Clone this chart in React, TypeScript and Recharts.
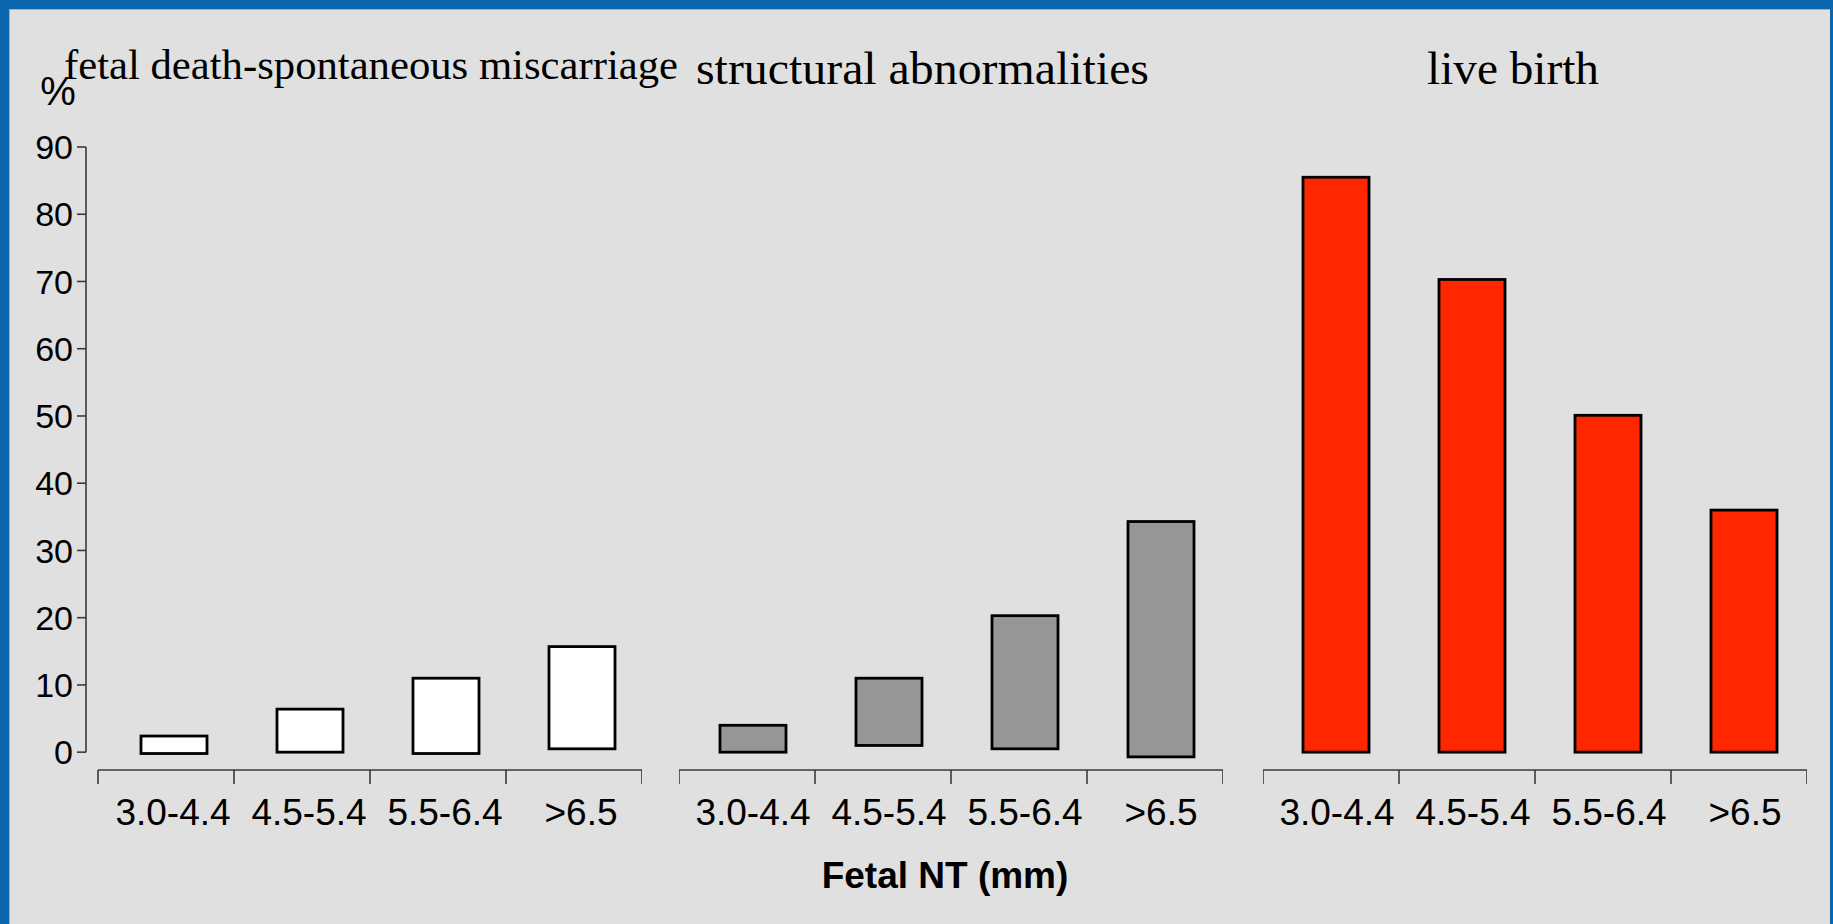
import React from "react";
import { BarChart, Bar, XAxis, YAxis, ReferenceLine } from "recharts";

const categories = ["3.0-4.4", "4.5-5.4", "5.5-6.4", ">6.5"];
const yTicks = [0, 10, 20, 30, 40, 50, 60, 70, 80, 90];

// values (bars are drawn slightly floating in the original)
const deathLow = [-0.2, 0, -0.2, 0.5];
const deathHigh = [2.4, 6.4, 11.0, 15.7];
const structLow = [0, 1.0, 0.5, -0.7];
const structHigh = [4.0, 11.0, 20.3, 34.3];
const liveLow = [0, 0, 0, 0];
const liveHigh = [85.5, 70.3, 50.1, 36.0];

const titles = ["fetal death-spontaneous miscarriage", "structural abnormalities", "live birth"];
const xTitle = "Fetal NT (mm)";

const build = (low: number[], high: number[]) =>
  categories.map((c, i) => ({ cat: c, v: [low[i], high[i]] }));

const deathData = build(deathLow, deathHigh);
const structData = build(structLow, structHigh);
const liveData = build(liveLow, liveHigh);

const SANS = "'Liberation Sans', Arial, sans-serif";
const SERIF = "'Liberation Serif', 'Times New Roman', serif";
const AXIS = "#3a3a3a";

const PLOT_TOP = 147;
const PLOT_BOTTOM = 771;
const CH_H = 924;
const XAXIS_H = 100;
const SEG_W = 544;
const BAND = SEG_W / categories.length;
const Y_DOMAIN: [number, number] = [-2.8, 90];

const makeTick = (labelDx: number) => (props: any) => {
  const { x, y, index, payload } = props;
  const half = BAND / 2;
  const ly = y - 1;
  return (
    <g>
      <line x1={x - half} x2={x + half} y1={ly} y2={ly} stroke={AXIS} strokeWidth={1.6} />
      <line x1={x - half} x2={x - half} y1={ly} y2={ly + 14} stroke={AXIS} strokeWidth={1.6} />
      {index === categories.length - 1 && (
        <line x1={x + half} x2={x + half} y1={ly} y2={ly + 14} stroke={AXIS} strokeWidth={1.6} />
      )}
      <text x={x + labelDx} y={y + 54} textAnchor="middle" fontSize={37} fontFamily={SANS} fill="#000">
        {payload.value}
      </text>
    </g>
  );
};

const makeShape = (dx: number, fill: string) => (p: any) => {
  const { x, y, width, height } = p;
  const top = height < 0 ? y + height : y;
  const h = Math.abs(height);
  return <rect x={x + dx} y={top} width={width} height={h} fill={fill} stroke="#000" strokeWidth={2.8} />;
};

type PanelProps = {
  data: any[];
  fill: string;
  left: number;
  width: number;
  dx: number;
  labelDx: number;
  showY?: boolean;
  yWidth?: number;
  padLeft?: number;
};

const Panel = ({ data, fill, left, width, dx, labelDx, showY, yWidth = 0, padLeft = 0 }: PanelProps) => (
  <div style={{ position: "absolute", left, top: 0 }}>
    <BarChart
      width={width}
      height={CH_H}
      data={data}
      margin={{ top: PLOT_TOP, right: 0, left: 0, bottom: CH_H - PLOT_BOTTOM - XAXIS_H }}
      barSize={66}
    >
      <XAxis
        xAxisId="cat"
        dataKey="cat"
        height={XAXIS_H}
        axisLine={false}
        tickLine={false}
        tickSize={0}
        tickMargin={0}
        interval={0}
        padding={{ left: padLeft, right: 0 }}
        tick={makeTick(labelDx)}
      />
      <XAxis xAxisId="n" type="number" domain={[0, 1]} hide />
      <YAxis
        domain={Y_DOMAIN}
        ticks={yTicks}
        hide={!showY}
        width={yWidth}
        axisLine={false}
        tickLine={{ stroke: AXIS, strokeWidth: 1.6 }}
        tickSize={9}
        tickMargin={4}
        tick={{ fontSize: 34, fontFamily: SANS, fill: "#000" }}
      />
      {showY && (
        <ReferenceLine
          xAxisId="n"
          segment={[{ x: 0, y: 0 }, { x: 0, y: 90 }]}
          stroke={AXIS}
          strokeWidth={1.6}
          ifOverflow="visible"
        />
      )}
      <Bar
        xAxisId="cat"
        dataKey="v"
        fill={fill}
        stroke="#000"
        strokeWidth={2.8}
        shape={makeShape(dx, fill)}
        isAnimationActive={false}
      />
    </BarChart>
  </div>
);

export default function App() {
  return (
    <div
      style={{
        position: "absolute",
        left: 0,
        top: 0,
        width: 1833,
        height: 924,
        background: "#e0e0e0",
        overflow: "hidden",
      }}
    >
      <Panel data={deathData} fill="#ffffff" left={0} width={98 + SEG_W} dx={8} labelDx={7} showY yWidth={86} padLeft={12} />
      <Panel data={structData} fill="#969696" left={679} width={SEG_W} dx={6} labelDx={6} />
      <Panel data={liveData} fill="#ff2600" left={1263} width={SEG_W} dx={5} labelDx={6} />
      <svg
        width={1833}
        height={924}
        style={{ position: "absolute", left: 0, top: 0, pointerEvents: "none" }}
      >
        <text x={64} y={79} fontSize={42} fontFamily={SERIF} fill="#000" textLength={614} lengthAdjust="spacingAndGlyphs">
          {titles[0]}
        </text>
        <text x={696} y={84} fontSize={47} fontFamily={SERIF} fill="#000" textLength={453} lengthAdjust="spacingAndGlyphs">
          {titles[1]}
        </text>
        <text x={1427} y={84} fontSize={47} fontFamily={SERIF} fill="#000" textLength={172} lengthAdjust="spacingAndGlyphs">
          {titles[2]}
        </text>
        <text x={58} y={105} textAnchor="middle" fontSize={40} fontFamily={SANS} fill="#000">
          %
        </text>
        <text x={945} y={888} textAnchor="middle" fontSize={37} fontWeight="bold" fontFamily={SANS} fill="#000">
          {xTitle}
        </text>
      </svg>
      <div
        style={{
          position: "absolute",
          left: 0,
          top: 0,
          width: 1833,
          height: 924,
          boxSizing: "border-box",
          borderTop: "9px solid #0a66ae",
          borderLeft: "9px solid #0a66ae",
          borderRight: "3px solid #0a66ae",
          boxShadow: "inset 1px 1px 0 #8fb3d6",
          pointerEvents: "none",
        }}
      />
    </div>
  );
}
